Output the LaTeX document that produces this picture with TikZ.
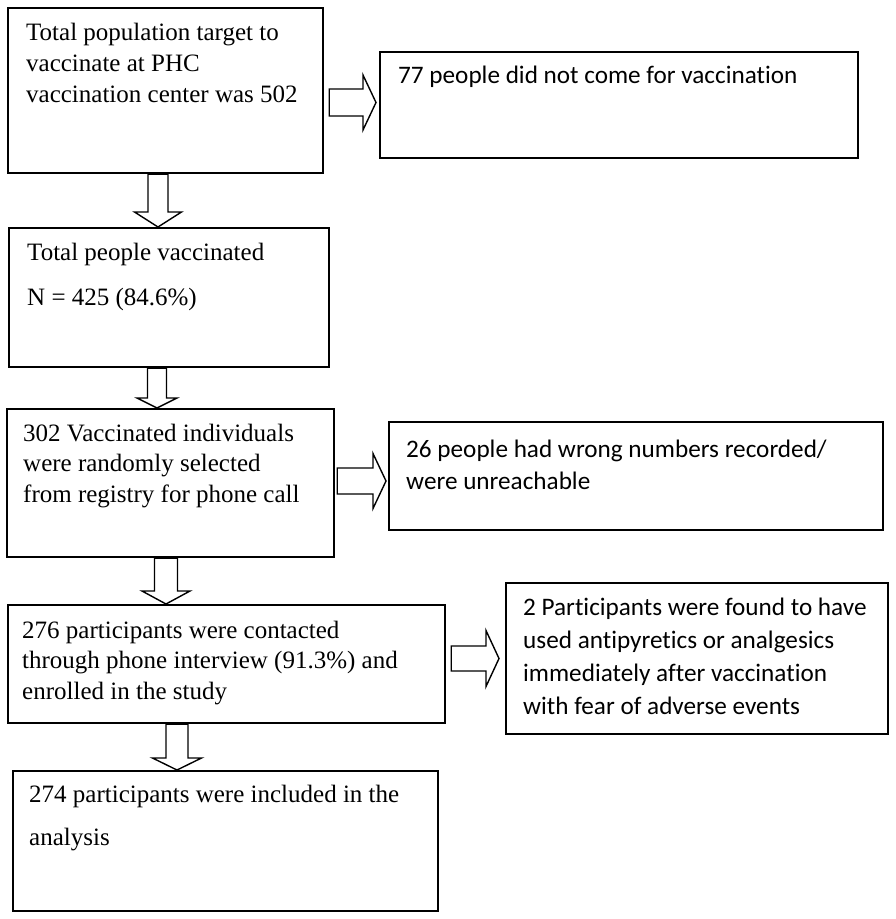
\documentclass[tikz,border=0pt]{standalone}
\usepackage{fontspec}
\setmainfont{Liberation Serif}
\newfontfamily\calfont[Ligatures=NoCommon]{Carlito}
\usetikzlibrary{calc}
\tikzset{
  box/.style={draw, line width=2.2pt, inner sep=0pt, anchor=north west},
  sertext/.style={anchor=base west, inner sep=0pt, align=left, font=\fontsize{25}{31}\selectfont},
  santext/.style={anchor=base west, inner sep=0pt, align=left, font=\calfont\fontsize{25.2}{32}\selectfont},
  blk/.style={draw, line width=1.4pt, fill=white, line join=miter}
}
\newcommand\darrow[6]{%
\draw[blk] let \p1=(#1.south), \p2=(#2.north) in
 ({(#3-#4)*1pt},\y1) -- ({(#3-#4)*1pt},{\y2+#6pt}) -- ({(#3-#5)*1pt},{\y2+#6pt}) --
 ({#3pt},\y2) -- ({(#3+#5)*1pt},{\y2+#6pt}) -- ({(#3+#4)*1pt},{\y2+#6pt}) --
 ({(#3+#4)*1pt},\y1) -- cycle;}
\newcommand\rarrow[8]{%
\draw[blk] let \p1=(#1.east), \p2=(#2.west) in
 ({\x1+#4pt},{-(#3-#6)*1pt}) -- ({\x2-#5pt-#8pt},{-(#3-#6)*1pt}) --
 ({\x2-#5pt-#8pt},{-(#3-#7)*1pt}) -- ({\x2-#5pt},{-#3pt}) --
 ({\x2-#5pt-#8pt},{-(#3+#7)*1pt}) -- ({\x2-#5pt-#8pt},{-(#3+#6)*1pt}) --
 ({\x1+#4pt},{-(#3+#6)*1pt}) -- cycle;}
\begin{document}
\begin{tikzpicture}[x=1pt,y=-1pt]
\useasboundingbox (0,0) rectangle (896,919);
% boxes
\node[box, minimum width=315pt, minimum height=165pt] (b1) at (7,7) {};
\node[box, minimum width=478pt, minimum height=106pt] (r1) at (379,51) {};
\node[box, minimum width=320pt, minimum height=139pt] (b2) at (8,227) {};
\node[box, minimum width=327pt, minimum height=148pt] (b3) at (6,408) {};
\node[box, minimum width=494pt, minimum height=108pt] (r2) at (388,421) {};
\node[box, minimum width=437pt, minimum height=118pt] (b4) at (7,604) {};
\node[box, minimum width=382pt, minimum height=151pt] (r3) at (505,582) {};
\node[box, minimum width=425pt, minimum height=140pt] (b5) at (12,770) {};
% texts (anchored on the baseline of their last line)
\node[sertext] (t1) at (26,102) {Total population target to\\vaccinate at PHC\\vaccination center was 502};
\node[santext] (u1) at (398,83) {77 people did not come for vaccination};
\node[sertext] (t2a) at (27,260) {Total people vaccinated};
\node[sertext] (t2b) at (27,305) {N = 425 (84.6\%)};
\node[sertext, font=\fontsize{25}{30.5}\selectfont] (t3) at (23,502) {302 Vaccinated individuals\\were randomly selected\\from registry for phone call};
\node[santext] (u2) at (406,489) {26 people had wrong numbers recorded/\\were unreachable};
\node[sertext, font=\fontsize{25}{30.5}\selectfont] (t4) at (22,699) {276 participants were contacted\\through phone interview (91.3\%) and\\enrolled in the study};
\node[santext, font=\calfont\fontsize{25.2}{33}\selectfont] (u3) at (523,714) {2 Participants were found to have\\used antipyretics or analgesics\\immediately after vaccination\\with fear of adverse events};
\node[sertext, font=\fontsize{25}{43}\selectfont] (t5) at (29,845) {274 participants were included in the\\analysis};
% block arrows
\darrow{b1}{b2}{158}{10}{23.5}{15}
\darrow{b2}{b3}{157}{9.5}{20}{10}
\darrow{b3}{b4}{166}{11.5}{24}{13}
\darrow{b4}{b5}{177}{11}{24.5}{12}
\rarrow{b1}{r1}{102.5}{5}{3}{13.5}{27.5}{13}
\rarrow{b3}{r2}{481}{2}{2}{13}{27.5}{13}
\rarrow{b4}{r3}{658.5}{5}{6}{12.5}{28}{13}
\end{tikzpicture}
\end{document}
